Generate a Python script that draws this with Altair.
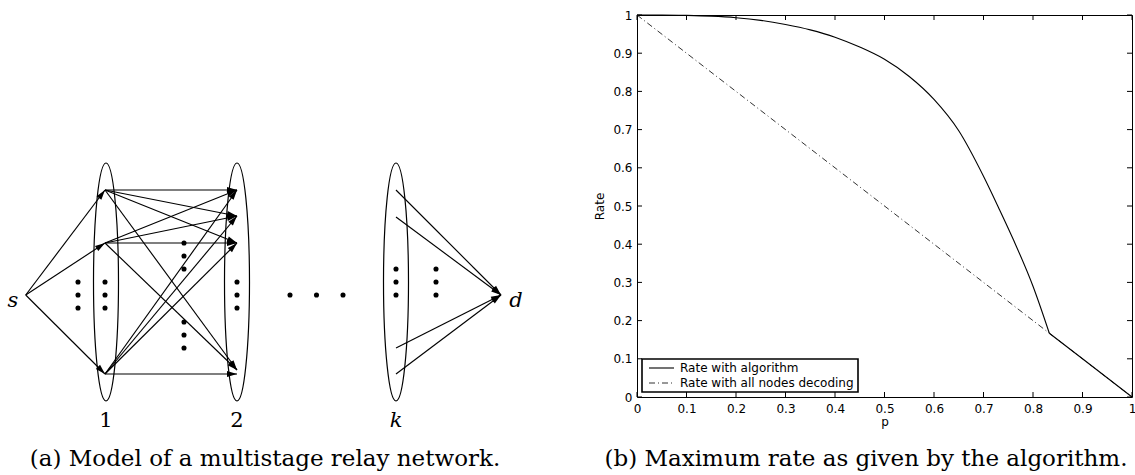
import altair as alt
import numpy as np
import pandas as pd

# ---------------- panel (b): rate curves ----------------
p_alg = [0, 0.05, 0.1, 0.15, 0.2, 0.25, 0.3, 0.35, 0.4, 0.45, 0.5, 0.55, 0.6,
         0.65, 0.7, 0.73, 0.76, 0.8, 0.833, 0.9, 1.0]
rate_alg = [1.0, 1.0, 0.999, 0.997, 0.993, 0.986, 0.975, 0.961, 0.942, 0.916,
            0.884, 0.839, 0.779, 0.697, 0.578, 0.497, 0.413, 0.29, 0.167, 0.1, 0.0]
kink_index = 18  # p = 0.833, where the algorithm curve meets the straight line
p_all = [0, 0.833, 1.0]
rate_all = [1.0, 0.167, 0.0]
tick_vals = [0, 0.1, 0.2, 0.3, 0.4, 0.5, 0.6, 0.7, 0.8, 0.9, 1]
legend_labels = ["Rate with algorithm", "Rate with all nodes decoding"]

# ---------------- panel (a): network diagram (figure pixels) ----------------
edge_x1 = [25.7, 25.7, 25.7, 105, 105, 105, 105, 105, 105, 105, 105, 105, 105, 105, 105, 396, 396, 396, 396]
edge_y1 = [295, 295, 295, 190, 190, 190, 190, 243, 243, 243, 243, 374, 374, 374, 374, 190, 217, 348, 374]
edge_x2 = [105, 105, 105, 237, 237, 237, 237, 237, 237, 237, 237, 237, 237, 237, 237, 501, 501, 501, 501]
edge_y2 = [190, 243, 374, 190, 216, 243, 370, 190, 216, 243, 370, 190, 216, 243, 374, 295, 295, 295, 295]
stage_x = [106, 237, 396]
stage_y = [282, 282, 282]
stage_labels = ["1", "2", "k"]
dot_x = [78, 78, 78, 105, 105, 105, 184, 184, 184, 184, 184, 184, 237, 237, 237,
         290, 316.5, 343, 396, 396, 396, 436, 436, 436]
dot_y = [282, 295, 308, 282, 295, 308, 243, 256, 269, 322, 335, 348, 282, 295, 308,
         295, 295, 295, 269, 282, 295, 269, 282, 295]
end_labels = ["s", "d"]
end_label_x = [13, 516]
end_label_y = [307, 307]
captions = ["(a) Model of a multistage relay network.",
            "(b) Maximum rate as given by the algorithm."]
caption_x = [265, 866]
caption_y = [466, 466]
# legend box of panel (b), figure pixels
legend_box = [642, 858, 359, 392]
legend_row_y = [368, 383]
legend_sym_x = [649, 674]
legend_text_x = 680

W, H = 495, 382
PAD_L, PAD_T = 637, 15

XS = alt.Scale(domain=[0, 1], nice=False, zero=False)
YS = alt.Scale(domain=[0, 1], nice=False, zero=False)
DX = alt.Scale(domain=[PAD_L, PAD_L + W], nice=False, zero=False)
DY = alt.Scale(domain=[PAD_T, PAD_T + H], reverse=True, nice=False, zero=False)

SANS = "DejaVu Sans"
SERIF = "DejaVu Serif"

df_alg = pd.DataFrame({"p": p_alg, "rate": rate_alg})
df_alg_curve = df_alg.iloc[:kink_index + 1]
df_alg_tail = df_alg.iloc[kink_index:]
df_all = pd.DataFrame({"p": p_all, "rate": rate_all})

xaxis = alt.Axis(values=tick_vals, format="~g", title="p", labelFont=SANS, labelFontSize=12,
                 titleFont=SANS, titleFontSize=12, titleFontWeight="normal",
                 labelColor="black", titleColor="black", ticks=False, tickSize=0,
                 domain=False, grid=False, labelPadding=6, titlePadding=2, labelFlush=False)
yaxis = alt.Axis(values=tick_vals, format="~g", title="Rate", labelFont=SANS, labelFontSize=12,
                 titleFont=SANS, titleFontSize=12, titleFontWeight="normal",
                 labelColor="black", titleColor="black", ticks=False, tickSize=0,
                 domain=False, grid=False, labelPadding=5, titlePadding=6, labelFlush=False)

all_line = alt.Chart(df_all).mark_line(color="#333333", strokeWidth=1, strokeDash=[6, 3, 1, 3]).encode(
    x=alt.X("p:Q", scale=XS, axis=None),
    y=alt.Y("rate:Q", scale=YS, axis=None),
)
alg_curve = alt.Chart(df_alg_curve).mark_line(color="black", strokeWidth=1.1, interpolate="monotone").encode(
    x=alt.X("p:Q", scale=XS, axis=xaxis),
    y=alt.Y("rate:Q", scale=YS, axis=yaxis),
)
alg_tail = alt.Chart(df_alg_tail).mark_line(color="black", strokeWidth=1.1).encode(
    x=alt.X("p:Q", scale=XS, axis=None),
    y=alt.Y("rate:Q", scale=YS, axis=None),
)

df_ticks = pd.DataFrame({"v": tick_vals})
tl = 5
ticks_bottom = alt.Chart(df_ticks).mark_rule(color="black", strokeWidth=1).encode(
    x=alt.X("v:Q", scale=XS, axis=None), y=alt.value(H), y2=alt.value(H - tl))
ticks_top = alt.Chart(df_ticks).mark_rule(color="black", strokeWidth=1).encode(
    x=alt.X("v:Q", scale=XS, axis=None), y=alt.value(0), y2=alt.value(tl))
ticks_left = alt.Chart(df_ticks).mark_rule(color="black", strokeWidth=1).encode(
    y=alt.Y("v:Q", scale=YS, axis=None), x=alt.value(0), x2=alt.value(tl))
ticks_right = alt.Chart(df_ticks).mark_rule(color="black", strokeWidth=1).encode(
    y=alt.Y("v:Q", scale=YS, axis=None), x=alt.value(W), x2=alt.value(W - tl))

# ----- legend (figure pixel coordinates)
df_lbox = pd.DataFrame({"x": [legend_box[0]], "x2": [legend_box[1]],
                        "y": [legend_box[2]], "y2": [legend_box[3]]})
leg_box = alt.Chart(df_lbox).mark_rect(fill="white", stroke="black", strokeWidth=1.6).encode(
    x=alt.X("x:Q", scale=DX, axis=None), x2="x2:Q",
    y=alt.Y("y:Q", scale=DY, axis=None), y2="y2:Q")
df_lsym = pd.DataFrame({"x": [legend_sym_x[0]] * 2, "x2": [legend_sym_x[1]] * 2,
                        "y": legend_row_y, "series": legend_labels})
leg_sym_solid = alt.Chart(df_lsym.iloc[[0]]).mark_rule(color="black", strokeWidth=1.1).encode(
    x=alt.X("x:Q", scale=DX, axis=None), x2="x2:Q",
    y=alt.Y("y:Q", scale=DY, axis=None))
leg_sym_dash = alt.Chart(df_lsym.iloc[[1]]).mark_rule(color="#333333", strokeWidth=1,
                                                     strokeDash=[6, 3, 1, 3]).encode(
    x=alt.X("x:Q", scale=DX, axis=None), x2="x2:Q",
    y=alt.Y("y:Q", scale=DY, axis=None))
df_ltxt = pd.DataFrame({"x": [legend_text_x] * 2, "y": legend_row_y, "t": legend_labels})
leg_txt = alt.Chart(df_ltxt).mark_text(font=SANS, fontSize=12, align="left", baseline="middle",
                                       color="black").encode(
    x=alt.X("x:Q", scale=DX, axis=None), y=alt.Y("y:Q", scale=DY, axis=None), text="t:N")

# ----- diagram
df_edges = pd.DataFrame({"x1": edge_x1, "y1": edge_y1, "x2": edge_x2, "y2": edge_y2})
df_edges["ang"] = np.degrees(np.arctan2(df_edges["y2"] - df_edges["y1"],
                                        df_edges["x2"] - df_edges["x1"])) % 360

edges = alt.Chart(df_edges).mark_rule(color="black", strokeWidth=1.15).encode(
    x=alt.X("x1:Q", scale=DX, axis=None), x2="x2:Q",
    y=alt.Y("y1:Q", scale=DY, axis=None), y2="y2:Q")
heads = alt.Chart(df_edges).mark_point(shape="M0,0L-1,-0.3L-1,0.3Z", filled=True, size=400,
                                       color="black", opacity=1).encode(
    x=alt.X("x2:Q", scale=DX, axis=None),
    y=alt.Y("y2:Q", scale=DY, axis=None),
    angle=alt.Angle("ang:Q", scale=None))

ry = 119
ellipse_path = "M0,-1A0.105,1,0,1,0,0,1A0.105,1,0,1,0,0,-1Z"
df_stage = pd.DataFrame({"x": stage_x, "y": stage_y})
ellipses = alt.Chart(df_stage).mark_point(shape=ellipse_path, filled=False, size=(2 * ry) ** 2,
                                          color="black", strokeWidth=1.2, opacity=1).encode(
    x=alt.X("x:Q", scale=DX, axis=None), y=alt.Y("y:Q", scale=DY, axis=None))

df_dots = pd.DataFrame({"x": dot_x, "y": dot_y})
dots = alt.Chart(df_dots).mark_circle(size=26, color="black", opacity=1).encode(
    x=alt.X("x:Q", scale=DX, axis=None), y=alt.Y("y:Q", scale=DY, axis=None))

df_stage_lab = pd.DataFrame({"x": stage_x, "y": [427] * 3, "t": stage_labels})
stage_txt_n = alt.Chart(df_stage_lab.iloc[:2]).mark_text(font=SERIF, fontSize=21, baseline="alphabetic",
                                                         color="black").encode(
    x=alt.X("x:Q", scale=DX, axis=None), y=alt.Y("y:Q", scale=DY, axis=None), text="t:N")
stage_txt_i = alt.Chart(df_stage_lab.iloc[2:]).mark_text(font=SERIF, fontSize=21, fontStyle="italic",
                                                         baseline="alphabetic", color="black").encode(
    x=alt.X("x:Q", scale=DX, axis=None), y=alt.Y("y:Q", scale=DY, axis=None), text="t:N")

df_end = pd.DataFrame({"x": end_label_x, "y": end_label_y, "t": end_labels})
end_txt = alt.Chart(df_end).mark_text(font=SERIF, fontSize=21, fontStyle="italic",
                                      baseline="alphabetic", color="black").encode(
    x=alt.X("x:Q", scale=DX, axis=None), y=alt.Y("y:Q", scale=DY, axis=None), text="t:N")

df_cap = pd.DataFrame({"x": caption_x, "y": caption_y, "t": captions})
cap_txt = alt.Chart(df_cap).mark_text(font=SERIF, fontSize=23, baseline="alphabetic",
                                      color="black").encode(
    x=alt.X("x:Q", scale=DX, axis=None), y=alt.Y("y:Q", scale=DY, axis=None), text="t:N")

chart = alt.layer(
    all_line, alg_curve, alg_tail, ticks_bottom, ticks_top, ticks_left, ticks_right,
    leg_box, leg_sym_solid, leg_sym_dash, leg_txt,
    edges, heads, ellipses, dots, stage_txt_n, stage_txt_i, end_txt, cap_txt,
).resolve_scale(x="independent", y="independent").properties(
    width=W, height=H,
    autosize=alt.AutoSizeParams(type="none"),
    padding={"left": PAD_L, "top": PAD_T, "right": 1135 - PAD_L - W, "bottom": 475 - PAD_T - H},
    background="white",
).configure_view(stroke="black", strokeWidth=1)

chart.save("out.html", embed_options={"renderer": "svg", "actions": False})
